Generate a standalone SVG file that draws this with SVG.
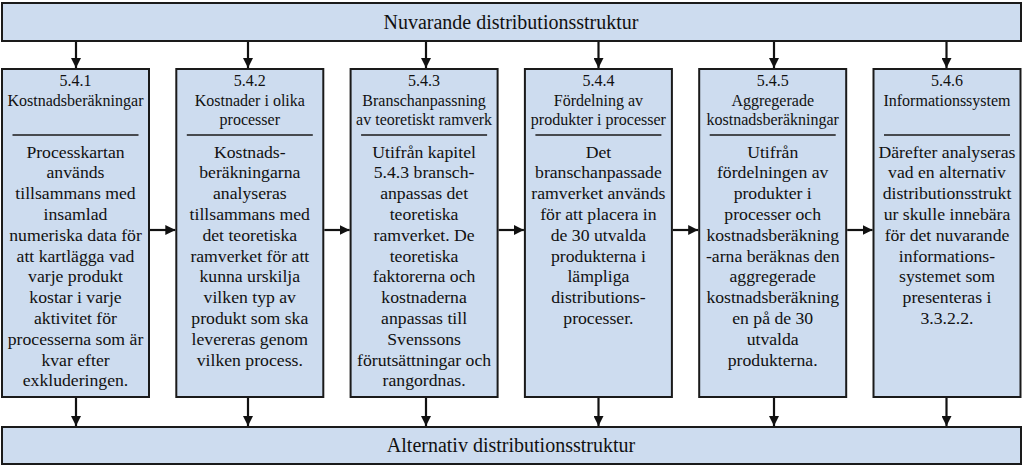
<svg xmlns="http://www.w3.org/2000/svg" width="1024" height="469" viewBox="0 0 1024 469">
<defs>
<marker id="ah" markerUnits="userSpaceOnUse" markerWidth="10" markerHeight="10" viewBox="0 0 10 10" refX="10" refY="5" orient="auto">
<path d="M0,0 L10,5 L0,10 Z" fill="#111"/>
</marker>
<style>
.box{fill:#cddcef;stroke:#1a1a1a;stroke-width:2}
.bar{fill:#cddcef;stroke:#1a1a1a;stroke-width:2}
.div{stroke:#1a1a1a;stroke-width:1.5}
.hd{font-family:"Liberation Serif","Times New Roman",serif;font-size:16px;fill:#111;text-anchor:middle}
.bd{font-family:"Liberation Serif","Times New Roman",serif;font-size:17.7px;fill:#111;text-anchor:middle}
.tt{font-family:"Liberation Serif","Times New Roman",serif;font-size:20px;fill:#111;text-anchor:middle}
.con{stroke:#111;stroke-width:2.2;fill:none;marker-end:url(#ah)}
</style>
</defs>
<g id="top">
<rect class="bar" x="2" y="3" width="1019" height="38"/>
<text class="tt" x="511" y="29">Nuvarande distributionsstruktur</text>
</g>
<g id="bottom">
<rect class="bar" x="2" y="427" width="1019" height="37"/>
<text class="tt" x="511" y="452">Alternativ distributionsstruktur</text>
</g>
<g id="n541">
<rect class="box" x="2" y="69" width="147" height="328"/>
<text class="hd" x="75.5"><tspan x="75.5" y="86">5.4.1</tspan><tspan x="75.5" y="105.5">Kostnadsberäkningar</tspan></text>
<line class="div" x1="12.5" y1="135" x2="138.5" y2="135"/>
<text class="bd"><tspan x="75.5" y="157.5">Processkartan</tspan><tspan x="75.5" y="178.3">används</tspan><tspan x="75.5" y="199.1">tillsammans med</tspan><tspan x="75.5" y="219.9">insamlad</tspan><tspan x="75.5" y="240.7">numeriska data för</tspan><tspan x="75.5" y="261.5">att kartlägga vad</tspan><tspan x="75.5" y="282.3">varje produkt</tspan><tspan x="75.5" y="303.1">kostar i varje</tspan><tspan x="75.5" y="323.9">aktivitet för</tspan><tspan x="75.5" y="344.7">processerna som är</tspan><tspan x="75.5" y="365.5">kvar efter</tspan><tspan x="75.5" y="386.3">exkluderingen.</tspan></text>
</g>
<g id="n542">
<rect class="box" x="176.3" y="69" width="147" height="328"/>
<text class="hd"><tspan x="249.8" y="86">5.4.2</tspan><tspan x="249.8" y="105.5">Kostnader i olika</tspan><tspan x="249.8" y="125">processer</tspan></text>
<line class="div" x1="186.8" y1="135" x2="312.8" y2="135"/>
<text class="bd"><tspan x="249.8" y="157.5">Kostnads-</tspan><tspan x="249.8" y="178.3">beräkningarna</tspan><tspan x="249.8" y="199.1">analyseras</tspan><tspan x="249.8" y="219.9">tillsammans med</tspan><tspan x="249.8" y="240.7">det teoretiska</tspan><tspan x="249.8" y="261.5">ramverket för att</tspan><tspan x="249.8" y="282.3">kunna urskilja</tspan><tspan x="249.8" y="303.1">vilken typ av</tspan><tspan x="249.8" y="323.9">produkt som ska</tspan><tspan x="249.8" y="344.7">levereras genom</tspan><tspan x="249.8" y="365.5">vilken process.</tspan></text>
</g>
<g id="n543">
<rect class="box" x="350.6" y="69" width="147" height="328"/>
<text class="hd"><tspan x="424.1" y="86">5.4.3</tspan><tspan x="424.1" y="105.5">Branschanpassning</tspan><tspan x="424.1" y="125">av teoretiskt ramverk</tspan></text>
<line class="div" x1="361.1" y1="135" x2="487.1" y2="135"/>
<text class="bd"><tspan x="424.1" y="157.5">Utifrån kapitel</tspan><tspan x="424.1" y="178.3">5.4.3 bransch-</tspan><tspan x="424.1" y="199.1">anpassas det</tspan><tspan x="424.1" y="219.9">teoretiska</tspan><tspan x="424.1" y="240.7">ramverket. De</tspan><tspan x="424.1" y="261.5">teoretiska</tspan><tspan x="424.1" y="282.3">faktorerna och</tspan><tspan x="424.1" y="303.1">kostnaderna</tspan><tspan x="424.1" y="323.9">anpassas till</tspan><tspan x="424.1" y="344.7">Svenssons</tspan><tspan x="424.1" y="365.5">förutsättningar och</tspan><tspan x="424.1" y="386.3">rangordnas.</tspan></text>
</g>
<g id="n544">
<rect class="box" x="524.9" y="69" width="147" height="328"/>
<text class="hd"><tspan x="598.4" y="86">5.4.4</tspan><tspan x="598.4" y="105.5">Fördelning av</tspan><tspan x="598.4" y="125">produkter i processer</tspan></text>
<line class="div" x1="535.4" y1="135" x2="661.4" y2="135"/>
<text class="bd"><tspan x="598.4" y="157.5">Det</tspan><tspan x="598.4" y="178.3">branschanpassade</tspan><tspan x="598.4" y="199.1">ramverket används</tspan><tspan x="598.4" y="219.9">för att placera in</tspan><tspan x="598.4" y="240.7">de 30 utvalda</tspan><tspan x="598.4" y="261.5">produkterna i</tspan><tspan x="598.4" y="282.3">lämpliga</tspan><tspan x="598.4" y="303.1">distributions-</tspan><tspan x="598.4" y="323.9">processer.</tspan></text>
</g>
<g id="n545">
<rect class="box" x="699.2" y="69" width="147" height="328"/>
<text class="hd"><tspan x="772.7" y="86">5.4.5</tspan><tspan x="772.7" y="105.5">Aggregerade</tspan><tspan x="772.7" y="125">kostnadsberäkningar</tspan></text>
<line class="div" x1="709.7" y1="135" x2="835.7" y2="135"/>
<text class="bd"><tspan x="772.7" y="157.5">Utifrån</tspan><tspan x="772.7" y="178.3">fördelningen av</tspan><tspan x="772.7" y="199.1">produkter i</tspan><tspan x="772.7" y="219.9">processer och</tspan><tspan x="772.7" y="240.7">kostnadsberäkning</tspan><tspan x="772.7" y="261.5">-arna beräknas den</tspan><tspan x="772.7" y="282.3">aggregerade</tspan><tspan x="772.7" y="303.1">kostnadsberäkning</tspan><tspan x="772.7" y="323.9">en på de 30</tspan><tspan x="772.7" y="344.7">utvalda</tspan><tspan x="772.7" y="365.5">produkterna.</tspan></text>
</g>
<g id="n546">
<rect class="box" x="873.5" y="69" width="147" height="328"/>
<text class="hd"><tspan x="947" y="86">5.4.6</tspan><tspan x="947" y="105.5">Informationssystem</tspan></text>
<line class="div" x1="884" y1="135" x2="1010" y2="135"/>
<text class="bd"><tspan x="947" y="157.5">Därefter analyseras</tspan><tspan x="947" y="178.3">vad en alternativ</tspan><tspan x="947" y="199.1">distributionsstrukt</tspan><tspan x="947" y="219.9">ur skulle innebära</tspan><tspan x="947" y="240.7">för det nuvarande</tspan><tspan x="947" y="261.5">informations-</tspan><tspan x="947" y="282.3">systemet som</tspan><tspan x="947" y="303.1">presenteras i</tspan><tspan x="947" y="323.9">3.3.2.2.</tspan></text>
</g>
<g id="connectors">
<line class="con" x1="76" y1="42" x2="76" y2="68"/>
<line class="con" x1="248" y1="42" x2="248" y2="68"/>
<line class="con" x1="426" y1="42" x2="426" y2="68"/>
<line class="con" x1="598.5" y1="42" x2="598.5" y2="68"/>
<line class="con" x1="774" y1="42" x2="774" y2="68"/>
<line class="con" x1="946.5" y1="42" x2="946.5" y2="68"/>
<line class="con" x1="150" y1="230" x2="175.3" y2="230"/>
<line class="con" x1="324.3" y1="230" x2="349.6" y2="230"/>
<line class="con" x1="498.6" y1="230" x2="523.9" y2="230"/>
<line class="con" x1="672.9" y1="230" x2="698.2" y2="230"/>
<line class="con" x1="847.2" y1="230" x2="872.5" y2="230"/>
<line class="con" x1="76" y1="398" x2="76" y2="426"/>
<line class="con" x1="248" y1="398" x2="248" y2="426"/>
<line class="con" x1="426" y1="398" x2="426" y2="426"/>
<line class="con" x1="598.5" y1="398" x2="598.5" y2="426"/>
<line class="con" x1="774" y1="398" x2="774" y2="426"/>
<line class="con" x1="946.5" y1="398" x2="946.5" y2="426"/>
</g>
</svg>
